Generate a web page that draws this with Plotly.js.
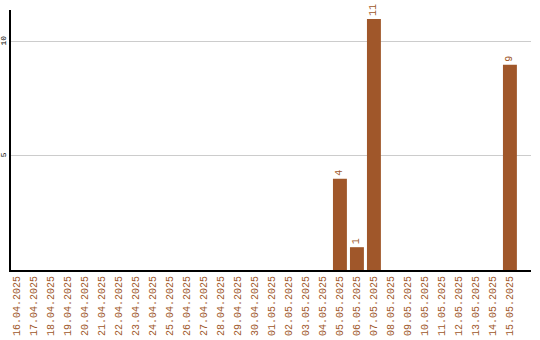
<!DOCTYPE html>
<html>
<head>
<meta charset="utf-8">
<script src="https://cdn.plot.ly/plotly-3.0.1.min.js"></script>
<style>
  html, body { margin: 0; padding: 0; background: #fff; }
  #chart { width: 540px; height: 340px; }
</style>
</head>
<body>
<div id="chart"></div>
<script>
// Daily counts, 16.04.2025 – 15.05.2025
const dates = [
  "16.04.2025", "17.04.2025", "18.04.2025", "19.04.2025", "20.04.2025",
  "21.04.2025", "22.04.2025", "23.04.2025", "24.04.2025", "25.04.2025",
  "26.04.2025", "27.04.2025", "28.04.2025", "29.04.2025", "30.04.2025",
  "01.05.2025", "02.05.2025", "03.05.2025", "04.05.2025", "05.05.2025",
  "06.05.2025", "07.05.2025", "08.05.2025", "09.05.2025", "10.05.2025",
  "11.05.2025", "12.05.2025", "13.05.2025", "14.05.2025", "15.05.2025"
];
const counts = [
  0, 0, 0, 0, 0,
  0, 0, 0, 0, 0,
  0, 0, 0, 0, 0,
  0, 0, 0, 0, 4,
  1, 11, 0, 0, 0,
  0, 0, 0, 0, 9
];
const yTicks = [5, 10];

const barColor = "#a0572a";
const mono = "Liberation Mono, Courier New, monospace";

const trace = {
  type: "bar",
  x: dates,
  y: counts,
  marker: { color: barColor },
  text: counts.map(v => (v > 0 ? String(v) : "")),
  textposition: "outside",
  textangle: -90,
  cliponaxis: false,
  textfont: { family: mono, size: 10, color: barColor },
  hoverinfo: "none"
};

const layout = {
  width: 540,
  height: 340,
  margin: { l: 11, r: 9, t: 10, b: 70 },
  paper_bgcolor: "#ffffff",
  plot_bgcolor: "#ffffff",
  showlegend: false,
  bargap: 0.18,
  xaxis: {
    type: "category",
    range: [-0.35, 30.24],
    tickangle: -90,
    tickfont: { family: mono, size: 10, color: barColor },
    showline: true,
    linecolor: "#000",
    linewidth: 2,
    showgrid: false,
    ticks: "",
    zeroline: false,
    fixedrange: true
  },
  yaxis: {
    range: [0, 11.4],
    tickvals: yTicks,
    ticktext: yTicks.map(String),
    tickangle: -90,
    tickfont: { family: mono, size: 8, color: "#000" },
    showline: true,
    linecolor: "#000",
    linewidth: 2,
    showgrid: true,
    gridcolor: "#cccccc",
    gridwidth: 1,
    ticks: "",
    zeroline: false,
    fixedrange: true
  }
};

Plotly.newPlot("chart", [trace], layout, { displayModeBar: false, staticPlot: true });
</script>
</body>
</html>
